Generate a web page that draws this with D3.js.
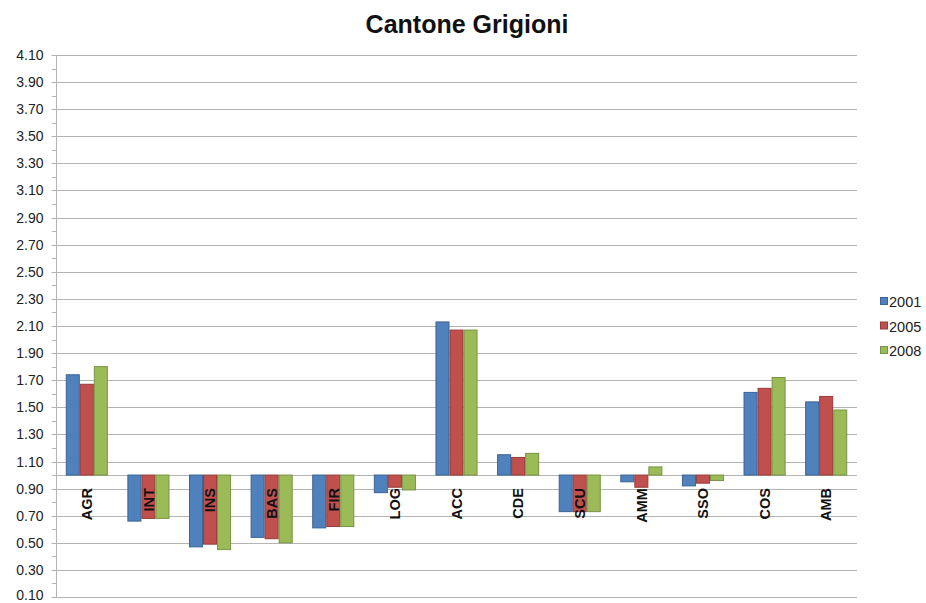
<!DOCTYPE html>
<html>
<head>
<meta charset="utf-8">
<script src="https://cdn.jsdelivr.net/npm/d3@7"></script>
<style>
  html, body { margin: 0; padding: 0; background: #fff; }
  svg { display: block; font-family: Arial, "Liberation Sans", sans-serif; }
</style>
</head>
<body>
<svg id="chart" width="926" height="603"></svg>
<script>
const title = "Cantone Grigioni";
const categories = ["AGR","INT","INS","BAS","FIR","LOG","ACC","CDE","SCU","AMM","SSO","COS","AMB"];
const seriesNames = ["2001","2005","2008"];
const values2001 = [1.74,0.66,0.47,0.54,0.61,0.87,2.13,1.15,0.73,0.95,0.92,1.61,1.54];
const values2005 = [1.67,0.68,0.49,0.53,0.62,0.91,2.07,1.13,0.73,0.91,0.94,1.64,1.58];
const values2008 = [1.80,0.68,0.45,0.50,0.62,0.89,2.07,1.16,0.73,1.06,0.96,1.72,1.48];
const yTickValues = [0.10,0.30,0.50,0.70,0.90,1.10,1.30,1.50,1.70,1.90,2.10,2.30,2.50,2.70,2.90,3.10,3.30,3.50,3.70,3.90,4.10];
const yMinorTicks = [0.20,0.40,0.60,0.80,1.00,1.20,1.40,1.60,1.80,2.00,2.20,2.40,2.60,2.80,3.00,3.20,3.40,3.60,3.80,4.00];
const baseValue = 1.0;
const fills = ["#4F81BD","#C0504D","#9BBB59"];
const strokes = ["#3A6397","#963C3A","#789440"];

const seriesValues = [values2001, values2005, values2008];
const svg = d3.select("#chart");
const plot = {left: 56, right: 857, top: 55, bottom: 597};

const y = d3.scaleLinear().domain([0.1, 4.1]).range([plot.bottom, plot.top]);
const x0 = d3.scaleBand().domain(categories).range([plot.left, plot.right])
  .paddingInner(0.317).paddingOuter(0.1585);
const x1 = d3.scaleBand().domain(seriesNames).range([0, x0.bandwidth()]);

const gridColor = "#b4b4b4";

// gridlines
svg.append("g").selectAll("line").data(yTickValues).join("line")
  .attr("x1", plot.left).attr("x2", plot.right)
  .attr("y1", d => Math.round(y(d)) + 0.5).attr("y2", d => Math.round(y(d)) + 0.5)
  .attr("stroke", gridColor).attr("stroke-width", 1);

// y axis
const yAxis = d3.axisLeft(y).tickValues(yTickValues).tickFormat(d3.format(".2f")).tickSize(5).tickPadding(8);
const gy = svg.append("g").attr("transform", `translate(${plot.left + 0.5},0)`).call(yAxis);
gy.select(".domain").attr("stroke", gridColor).attr("d", `M0,${plot.top}V${plot.bottom}`);
gy.selectAll(".tick line").attr("stroke", gridColor);
gy.selectAll(".tick").attr("transform", d => `translate(0,${Math.round(y(d)) + 0.5})`);
gy.selectAll(".tick text").attr("fill", "#222")
  .attr("dy", (d, i) => i === 0 ? "0.16em" : "0.33em")
  .style("font-size", "14px").style("font-family", "Arial, 'Liberation Sans', sans-serif");

// minor ticks
svg.append("g").selectAll("line").data(yMinorTicks).join("line")
  .attr("x1", plot.left - 4).attr("x2", plot.left)
  .attr("y1", d => Math.round(y(d)) + 0.5).attr("y2", d => Math.round(y(d)) + 0.5)
  .attr("stroke", gridColor);

// baseline axis at 1.0
svg.append("line")
  .attr("x1", plot.left).attr("x2", plot.right)
  .attr("y1", Math.round(y(baseValue)) + 0.5).attr("y2", Math.round(y(baseValue)) + 0.5)
  .attr("stroke", gridColor);

// bars
const groups = svg.append("g").selectAll("g").data(categories).join("g")
  .attr("transform", c => `translate(${x0(c)},0)`);
groups.selectAll("rect")
  .data((c, i) => seriesNames.map((s, k) => ({s, k, v: seriesValues[k][i]})))
  .join("rect")
  .attr("x", d => x1(d.s) + 0.5)
  .attr("width", x1.bandwidth() - 1)
  .attr("y", d => Math.min(y(d.v), y(baseValue)))
  .attr("height", d => Math.abs(y(d.v) - y(baseValue)))
  .attr("fill", d => fills[d.k])
  .attr("stroke", d => strokes[d.k])
  .attr("stroke-width", 1);

// category labels
svg.append("g").selectAll("text").data(categories).join("text")
  .attr("transform", c => `translate(${x0(c) + x0.bandwidth() / 2},${y(baseValue) + 13}) rotate(-90)`)
  .attr("text-anchor", "end")
  .attr("dy", "0.36em")
  .style("font-size", "14.5px").style("font-weight", "bold").attr("fill", "#111")
  .text(c => c);

// title
svg.append("text").attr("x", 467).attr("y", 33).attr("text-anchor", "middle")
  .style("font-size", "25px").style("font-weight", "bold").attr("fill", "#111")
  .text(title);

// legend
const legend = svg.append("g").selectAll("g").data(seriesNames).join("g")
  .attr("transform", (d, i) => `translate(880,${297 + i * 24.5})`);
legend.append("rect").attr("x", 0.5).attr("y", 0.5).attr("width", 7).attr("height", 7)
  .attr("fill", (d, i) => fills[i]).attr("stroke", (d, i) => strokes[i]);
legend.append("text").attr("x", 9).attr("y", 10)
  .style("font-size", "14.5px").attr("fill", "#222").text(d => d);
</script>
</body>
</html>
